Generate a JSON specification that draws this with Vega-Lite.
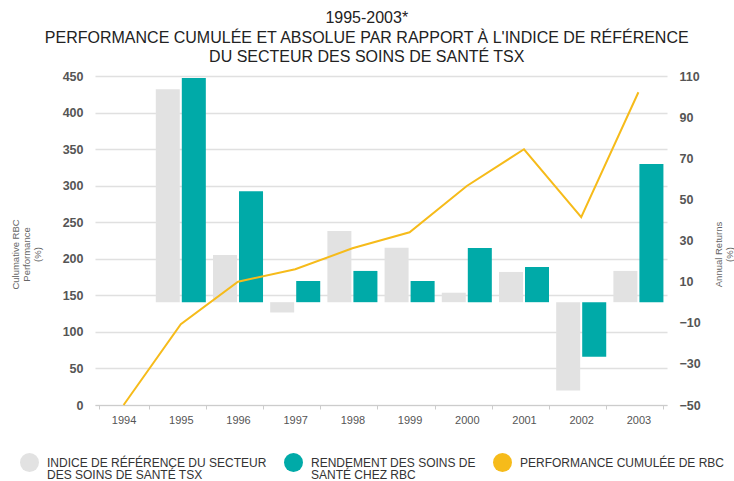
{
  "$schema": "https://vega.github.io/schema/vega-lite/v6.json",
  "width": 572,
  "height": 329,
  "autosize": {"type": "none"},
  "padding": {"left": 95, "top": 76, "right": 67, "bottom": 76},
  "background": "white",
  "config": {"view": {"stroke": null}, "font": "Liberation Sans"},
  "title": {
    "text": ["1995-2003*", "PERFORMANCE CUMULÉE ET ABSOLUE PAR RAPPORT À L'INDICE DE RÉFÉRENCE", "DU SECTEUR DES SOINS DE SANTÉ TSX"],
    "fontSize": 16,
    "font": "Liberation Sans",
    "fontWeight": "normal",
    "color": "#222",
    "anchor": "middle",
    "frame": "bounds",
    "offset": 5,
    "dx": -5,
    "lineHeight": 19.5
  },
  "datasets": {
    "bars": [
      {"year": "1995", "series": "INDICE DE RÉFÉRENCE DU SECTEUR|DES SOINS DE SANTÉ TSX", "value": 103.5},
      {"year": "1995", "series": "RENDEMENT DES SOINS DE|SANTÉ CHEZ RBC", "value": 109},
      {"year": "1996", "series": "INDICE DE RÉFÉRENCE DU SECTEUR|DES SOINS DE SANTÉ TSX", "value": 23},
      {"year": "1996", "series": "RENDEMENT DES SOINS DE|SANTÉ CHEZ RBC", "value": 54},
      {"year": "1997", "series": "INDICE DE RÉFÉRENCE DU SECTEUR|DES SOINS DE SANTÉ TSX", "value": -5},
      {"year": "1997", "series": "RENDEMENT DES SOINS DE|SANTÉ CHEZ RBC", "value": 10.3},
      {"year": "1998", "series": "INDICE DE RÉFÉRENCE DU SECTEUR|DES SOINS DE SANTÉ TSX", "value": 34.6},
      {"year": "1998", "series": "RENDEMENT DES SOINS DE|SANTÉ CHEZ RBC", "value": 15.2},
      {"year": "1999", "series": "INDICE DE RÉFÉRENCE DU SECTEUR|DES SOINS DE SANTÉ TSX", "value": 26.5},
      {"year": "1999", "series": "RENDEMENT DES SOINS DE|SANTÉ CHEZ RBC", "value": 10.3},
      {"year": "2000", "series": "INDICE DE RÉFÉRENCE DU SECTEUR|DES SOINS DE SANTÉ TSX", "value": 4.6},
      {"year": "2000", "series": "RENDEMENT DES SOINS DE|SANTÉ CHEZ RBC", "value": 26.4},
      {"year": "2001", "series": "INDICE DE RÉFÉRENCE DU SECTEUR|DES SOINS DE SANTÉ TSX", "value": 14.7},
      {"year": "2001", "series": "RENDEMENT DES SOINS DE|SANTÉ CHEZ RBC", "value": 17.1},
      {"year": "2002", "series": "INDICE DE RÉFÉRENCE DU SECTEUR|DES SOINS DE SANTÉ TSX", "value": -43},
      {"year": "2002", "series": "RENDEMENT DES SOINS DE|SANTÉ CHEZ RBC", "value": -26.5},
      {"year": "2003", "series": "INDICE DE RÉFÉRENCE DU SECTEUR|DES SOINS DE SANTÉ TSX", "value": 15.2},
      {"year": "2003", "series": "RENDEMENT DES SOINS DE|SANTÉ CHEZ RBC", "value": 67.2}
    ],
    "cum": [
      {"year": "1994", "value": 0},
      {"year": "1995", "value": 110.4},
      {"year": "1996", "value": 168.7},
      {"year": "1997", "value": 185.6},
      {"year": "1998", "value": 214.3},
      {"year": "1999", "value": 236.2},
      {"year": "2000", "value": 299.6},
      {"year": "2001", "value": 349.8},
      {"year": "2002", "value": 256.8},
      {"year": "2003", "value": 427.8}
    ]
  },
  "layer": [
    {
      "data": {"name": "bars"},
      "mark": {"type": "bar"},
      "encoding": {
        "x": {
          "field": "year",
          "type": "nominal",
          "scale": {"domain": ["1994", "1995", "1996", "1997", "1998", "1999", "2000", "2001", "2002", "2003"], "paddingInner": 0.125, "paddingOuter": 0.0625},
          "axis": {
            "title": null,
            "labelAngle": 0,
            "tickBand": "extent",
            "domainColor": "#cccccc",
            "tickColor": "#cccccc",
            "tickSize": 4,
            "labelColor": "#555555",
            "labelFontSize": 11,
            "labelPadding": 5,
            "grid": false
          }
        },
        "xOffset": {
          "field": "series",
          "scale": {"domain": ["INDICE DE RÉFÉRENCE DU SECTEUR|DES SOINS DE SANTÉ TSX", "RENDEMENT DES SOINS DE|SANTÉ CHEZ RBC"], "paddingInner": 0.077, "paddingOuter": 0}
        },
        "y": {
          "field": "value",
          "type": "quantitative",
          "scale": {"domain": [-50, 110], "nice": false},
          "axis": {
            "orient": "right",
            "values": [-50, -30, -10, 10, 30, 50, 70, 90, 110],
            "grid": false,
            "domain": false,
            "ticks": false,
            "labelPadding": 12,
            "labelFontSize": 12.5,
            "labelFontWeight": "bold",
            "labelColor": "#555555",
            "title": ["Annual Returns", "(%)"],
            "titleFontSize": 9.5,
            "titleFontWeight": "normal",
            "titleColor": "#666666",
            "titleAngle": -90,
            "titleAlign": "center",
            "titleBaseline": "middle",
            "titleX": 51,
            "titleY": 178,
            "titleLineHeight": 11
          }
        },
        "color": {
          "field": "series",
          "type": "nominal",
          "scale": {
            "domain": ["INDICE DE RÉFÉRENCE DU SECTEUR|DES SOINS DE SANTÉ TSX", "RENDEMENT DES SOINS DE|SANTÉ CHEZ RBC", "PERFORMANCE CUMULÉE DE RBC|"],
            "range": ["#e2e2e2", "#00aaa8", "#f6bb1a"]
          },
          "legend": {
            "orient": "none",
            "legendX": -75,
            "legendY": 377,
            "direction": "horizontal",
            "columns": 3,
            "title": null,
            "symbolType": "circle",
            "symbolSize": 361,
            "symbolStrokeWidth": 0,
            "labelFontSize": 12,
            "labelColor": "#333333",
            "labelLimit": 260,
            "labelOffset": 8,
            "columnPadding": 17,
            "labelExpr": "split(datum.label, '|')",
            "encode": {
              "symbols": {"update": {"fill": [{"test": "indexof(datum.value, 'INDICE') == 0", "value": "#d6d6d6"}, {"scale": "color", "field": "value"}], "stroke": {"value": "transparent"}, "opacity": {"value": 1}}},
              "labels": {"update": {"lineHeight": {"value": 12.5}}}
            }
          }
        }
      }
    },
    {
      "data": {"name": "cum"},
      "mark": {"type": "line", "strokeWidth": 2},
      "encoding": {
        "x": {"field": "year", "type": "nominal"},
        "y": {
          "field": "value",
          "type": "quantitative",
          "scale": {"domain": [0, 450], "nice": false},
          "axis": {
            "orient": "left",
            "values": [0, 50, 100, 150, 200, 250, 300, 350, 400, 450],
            "grid": true,
            "gridColor": "#e0e0e0",
            "gridWidth": 1.5,
            "domain": false,
            "ticks": false,
            "labelPadding": 12,
            "labelFontSize": 12.5,
            "labelFontWeight": "bold",
            "labelColor": "#555555",
            "title": ["Culumative RBC", "Performance", "(%)"],
            "titleFontSize": 9.5,
            "titleFontWeight": "normal",
            "titleColor": "#666666",
            "titleAngle": -90,
            "titleAlign": "center",
            "titleBaseline": "middle",
            "titleX": -80,
            "titleY": 178,
            "titleLineHeight": 11
          }
        },
        "color": {"datum": "PERFORMANCE CUMULÉE DE RBC|"}
      }
    }
  ],
  "resolve": {"scale": {"y": "independent"}}
}
